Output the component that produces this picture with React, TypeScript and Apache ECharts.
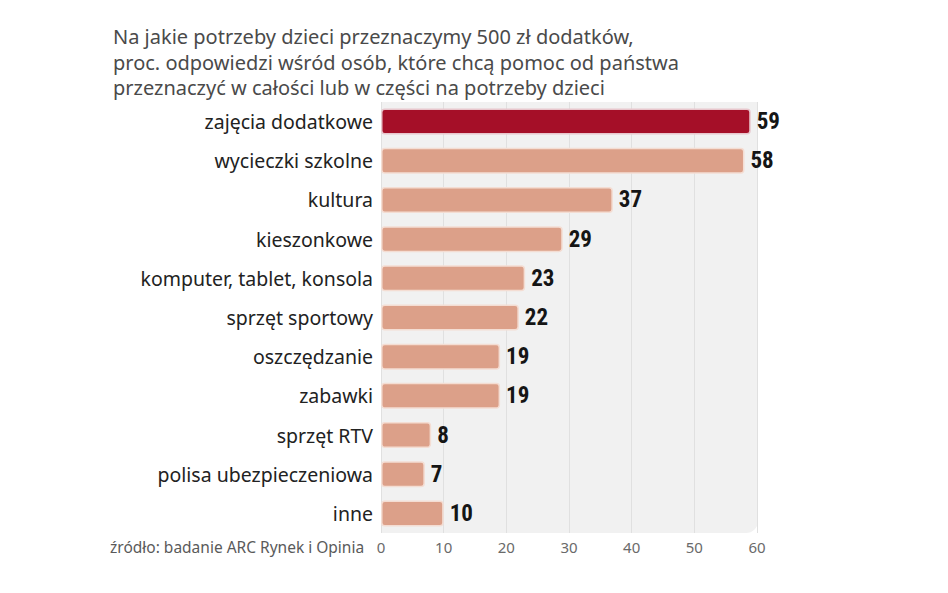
import React, { useEffect, useRef } from "react";
import * as echarts from "echarts";

const categories = [
  "zajęcia dodatkowe",
  "wycieczki szkolne",
  "kultura",
  "kieszonkowe",
  "komputer, tablet, konsola",
  "sprzęt sportowy",
  "oszczędzanie",
  "zabawki",
  "sprzęt RTV",
  "polisa ubezpieczeniowa",
  "inne",
];
const values = [59, 58, 37, 29, 23, 22, 19, 19, 8, 7, 10];
const highlightIndex = 0;
const titleLines = [
  "Na jakie potrzeby dzieci przeznaczymy 500 zł dodatków,",
  "proc. odpowiedzi wśród osób, które chcą pomoc od państwa",
  "przeznaczyć w całości lub w części na potrzeby dzieci",
];
const sourceText = "źródło: badanie ARC Rynek i Opinia";
const xTicks = { min: 0, max: 60, interval: 10 };

export default function App() {
  const ref = useRef<HTMLDivElement>(null);
  useEffect(() => {
    if (!ref.current) return;
    const chart = echarts.init(ref.current, null, { renderer: "svg" });
    const gridLeft = 381;
    const gridRight = 191;
    const gridTop = 102;
    const gridBottom = 60;
    const W = 948;
    const H = 593;
    chart.setOption({
      animation: false,
      backgroundColor: "#ffffff",
      textStyle: { fontFamily: "Noto Sans" },
      graphic: [
        {
          type: "rect",
          z: -10,
          silent: true,
          shape: {
            x: gridLeft,
            y: gridTop,
            width: W - gridLeft - gridRight + 1,
            height: H - gridTop - gridBottom,
            r: [0, 0, 12, 0],
          },
          style: { fill: "#f1f1f1" },
        },
        {
          type: "text",
          left: 113,
          top: 24,
          style: {
            text: titleLines.join("\n"),
            fontSize: 20,
            lineHeight: 25.5,
            fill: "#4a4a4a",
            fontFamily: "Noto Sans",
          },
        },
        {
          type: "text",
          left: 110,
          top: 539,
          style: {
            text: sourceText,
            fontSize: 15.5,
            fill: "#5a5a5a",
            fontFamily: "Noto Sans",
          },
        },
      ],
      grid: {
        left: gridLeft,
        right: gridRight,
        top: gridTop,
        bottom: gridBottom,
        containLabel: false,
      },
      xAxis: {
        type: "value",
        min: xTicks.min,
        max: xTicks.max,
        interval: xTicks.interval,
        axisLine: { show: false },
        axisTick: { show: false },
        splitLine: { show: true, lineStyle: { color: "#e0e0e0", width: 1 } },
        axisLabel: { color: "#6a6a6a", fontSize: 15, margin: 6 },
      },
      yAxis: {
        type: "category",
        data: categories,
        inverse: true,
        axisLine: { show: false },
        axisTick: { show: false },
        axisLabel: { color: "#222222", fontSize: 19.5, margin: 8 },
      },
      series: [
        {
          type: "bar",
          barWidth: 26,
          data: values.map((v, i) => ({
            value: v,
            itemStyle: {
              color: i === highlightIndex ? "#a50f28" : "#dca089",
              borderColor: i === highlightIndex ? "#e8c6cc" : "#f4ddd3",
              borderWidth: 1.5,
              borderRadius: 3,
            },
          })),
          label: {
            show: true,
            position: "right",
            distance: 6,
            fontSize: 23,
            fontWeight: "bold",
            color: "#151515",
            fontFamily: "'Roboto Condensed', 'DejaVu Sans Condensed', Roboto, sans-serif",
          },
        },
      ],
    });
    return () => chart.dispose();
  }, []);
  return <div ref={ref} style={{ width: 948, height: 593, position: "absolute", left: 0, top: 0 }} />;
}
